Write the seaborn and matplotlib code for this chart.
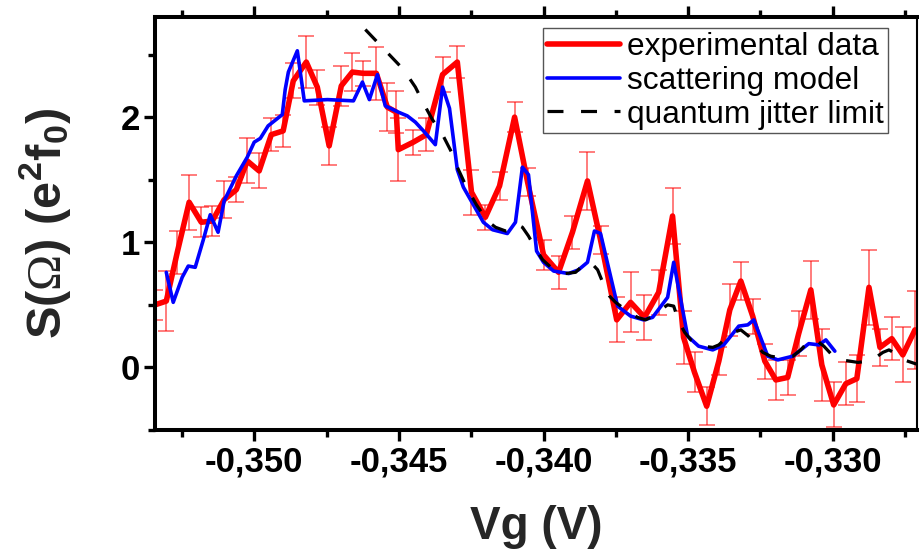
import pandas as pd
import seaborn as sns
import matplotlib.pyplot as plt
from matplotlib.ticker import MultipleLocator, FuncFormatter

# experimental data (red) with error bars
vg_exp = [-0.35343, -0.35304, -0.35266, -0.35225, -0.35183, -0.35145, -0.35104, -0.35062, -0.35024, -0.34983,
          -0.34941, -0.34900, -0.34865, -0.34820, -0.34782, -0.34741, -0.34699, -0.34661, -0.34623, -0.34578,
          -0.34540, -0.34509, -0.34502, -0.34450, -0.34405, -0.34349, -0.34298, -0.34249, -0.34201, -0.34152,
          -0.34100, -0.34055, -0.34000, -0.33948, -0.33900, -0.33848, -0.33803, -0.33747, -0.33699, -0.33651,
          -0.33602, -0.33554, -0.33516, -0.33478, -0.33436, -0.33394, -0.33356, -0.33318, -0.33277, -0.33235,
          -0.33197, -0.33156, -0.33118, -0.33076, -0.33038, -0.32997, -0.32955, -0.32917, -0.32875, -0.32837,
          -0.32796, -0.32758, -0.32716]
s_exp = [0.50, 0.53, 0.92, 1.32, 1.16, 1.17, 1.34, 1.42, 1.65, 1.57,
         1.86, 1.89, 2.29, 2.44, 2.24, 1.77, 2.25, 2.36, 2.35, 2.35,
         2.08, 2.04, 1.74, 1.80, 1.86, 2.34, 2.44, 1.40, 1.20, 1.45,
         2.00, 1.48, 0.90, 0.76, 1.08, 1.49, 1.02, 0.38, 0.52, 0.40,
         0.60, 1.21, 0.24, -0.04, -0.31, 0.05, 0.46, 0.69, 0.41, 0.05,
         -0.10, -0.08, 0.27, 0.62, 0.02, -0.30, -0.13, -0.09, 0.64, 0.16,
         0.23, 0.10, 0.30]
s_err = [0.12, 0.24, 0.17, 0.22, 0.12, 0.12, 0.15, 0.10, 0.18, 0.14,
         0.13, 0.13, 0.14, 0.21, 0.14, 0.15, 0.16, 0.15, 0.10, 0.21,
         0.19, 0.17, 0.25, 0.10, 0.13, 0.14, 0.13, 0.18, 0.10, 0.11,
         0.12, 0.11, 0.12, 0.13, 0.13, 0.23, 0.11, 0.18, 0.24, 0.18,
         0.18, 0.22, 0.21, 0.16, 0.15, 0.11, 0.21, 0.15, 0.14, 0.14,
         0.16, 0.14, 0.18, 0.23, 0.29, 0.18, 0.17, 0.19, 0.30, 0.15,
         0.17, 0.22, 0.31]

# scattering model (blue)
vg_model = [-0.35304, -0.35280, -0.35249, -0.35228, -0.35204, -0.35176, -0.35152, -0.35125, -0.35104, -0.35062,
            -0.35024, -0.35000, -0.34979, -0.34952, -0.34903, -0.34893, -0.34882, -0.34851, -0.34827, -0.34747,
            -0.34657, -0.34626, -0.34602, -0.34574, -0.34547, -0.34502, -0.34471, -0.34443, -0.34415, -0.34374,
            -0.34349, -0.34325, -0.34298, -0.34277, -0.34208, -0.34176, -0.34125, -0.34097, -0.34073, -0.34052,
            -0.34024, -0.34000, -0.33965, -0.33913, -0.33879, -0.33848, -0.33824, -0.33803, -0.33744, -0.33699,
            -0.33654, -0.33623, -0.33571, -0.33550, -0.33502, -0.33464, -0.33415, -0.33377, -0.33325, -0.33294,
            -0.33273, -0.33225, -0.33190, -0.33138, -0.33083, -0.33048, -0.33024, -0.32993]
s_model = [0.76, 0.52, 0.72, 0.81, 0.80, 1.02, 1.22, 1.08, 1.33, 1.53,
           1.68, 1.80, 1.83, 1.93, 2.02, 2.22, 2.36, 2.53, 2.13, 2.14,
           2.13, 2.28, 2.14, 2.34, 2.09, 2.04, 2.01, 1.96, 1.89, 1.78,
           2.24, 2.07, 1.58, 1.44, 1.16, 1.10, 1.07, 1.16, 1.60, 1.54,
           0.93, 0.84, 0.77, 0.75, 0.78, 0.84, 1.09, 1.07, 0.49, 0.41,
           0.38, 0.40, 0.56, 0.84, 0.25, 0.17, 0.14, 0.18, 0.33, 0.34,
           0.38, 0.09, 0.06, 0.09, 0.19, 0.18, 0.22, 0.13]

# quantum jitter limit (black dashed)
vg_jitter = [-0.34616, -0.34550, -0.34484, -0.34443, -0.34415, -0.34384, -0.34349, -0.34318, -0.34298, -0.34266,
             -0.34232, -0.34194, -0.34166, -0.34131, -0.34107, -0.34090, -0.34073, -0.34052, -0.34028, -0.34003,
             -0.33965, -0.33924, -0.33889, -0.33862, -0.33837, -0.33813, -0.33792, -0.33772, -0.33751, -0.33716,
             -0.33675, -0.33647, -0.33623, -0.33595, -0.33571, -0.33550, -0.33533, -0.33512, -0.33491, -0.33450,
             -0.33415, -0.33394, -0.33367, -0.33343, -0.33318, -0.33291, -0.33266, -0.33242, -0.33215, -0.33190,
             -0.33138, -0.33111, -0.33083, -0.33059, -0.33031, -0.33007, -0.32969, -0.32913, -0.32882, -0.32851,
             -0.32827, -0.32806, -0.32782, -0.32754, -0.32702]
s_jitter = [2.70, 2.54, 2.38, 2.24, 2.11, 1.98, 1.86, 1.72, 1.60, 1.44,
            1.30, 1.17, 1.12, 1.09, 1.10, 1.14, 1.12, 1.05, 0.95, 0.86,
            0.78, 0.75, 0.76, 0.82, 0.84, 0.78, 0.66, 0.57, 0.52, 0.46,
            0.40, 0.38, 0.41, 0.46, 0.50, 0.49, 0.37, 0.28, 0.22, 0.17,
            0.16, 0.18, 0.24, 0.28, 0.30, 0.25, 0.18, 0.12, 0.09, 0.08,
            0.09, 0.14, 0.21, 0.22, 0.17, 0.11, 0.06, 0.04, 0.05, 0.08,
            0.12, 0.14, 0.11, 0.06, 0.02]

df_exp = pd.DataFrame({'Vg': vg_exp, 'S': s_exp, 'err': s_err})
df_model = pd.DataFrame({'Vg': vg_model, 'S': s_model})
df_jitter = pd.DataFrame({'Vg': vg_jitter, 'S': s_jitter})

sns.set_theme(style='ticks')
plt.rcParams['font.family'] = ['Liberation Sans', 'DejaVu Sans']
plt.rcParams['font.weight'] = 'bold'
plt.rcParams['mathtext.fontset'] = 'custom'
plt.rcParams['mathtext.rm'] = 'Liberation Serif:weight=normal'
plt.rcParams['mathtext.it'] = 'Liberation Sans:bold'
plt.rcParams['mathtext.bf'] = 'Liberation Sans:bold'

fig, ax = plt.subplots(figsize=(9.19, 5.51), dpi=100)
fig.subplots_adjust(left=155/919, right=917/919, top=1-17/551, bottom=1-430/551)

ax.errorbar(df_exp['Vg'], df_exp['S'], yerr=df_exp['err'], fmt='none',
            ecolor='#ff0000', alpha=0.6, elinewidth=1.2, capsize=6, capthick=1.2, zorder=1)
sns.lineplot(data=df_exp, x='Vg', y='S', sort=False, estimator=None, color='#ff0000',
             lw=4, label='experimental data', ax=ax, zorder=2)
sns.lineplot(data=df_model, x='Vg', y='S', sort=False, estimator=None, color='#0000ff',
             lw=2.6, label='scattering model', ax=ax, zorder=3)
sns.lineplot(data=df_jitter, x='Vg', y='S', sort=False, estimator=None, color='black',
             lw=2.3, linestyle=(0, (5, 5.5)), label='quantum jitter limit', ax=ax, zorder=4)

ax.set_xlim(-0.35343, -0.32709)
ax.set_ylim(-0.5, 2.8)

ax.xaxis.set_major_locator(MultipleLocator(0.005))
ax.xaxis.set_minor_locator(MultipleLocator(0.0025))
ax.yaxis.set_major_locator(MultipleLocator(1))
ax.yaxis.set_minor_locator(MultipleLocator(0.5))
ax.xaxis.set_major_formatter(FuncFormatter(lambda v, p: f'{v:.3f}'.replace('.', ',')))
ax.yaxis.set_major_formatter(FuncFormatter(lambda v, p: f'{v:.0f}'))

ax.tick_params(axis='both', which='major', direction='out', length=8, width=2.4,
               labelsize=25, pad=3, color='black', labelcolor='black')
ax.tick_params(axis='both', which='minor', direction='out', length=5, width=2.4, color='black')
ax.tick_params(axis='x', which='both', top=True, labeltop=False)
ax.tick_params(axis='y', which='both', right=False)

for side in ['left', 'bottom', 'top']:
    ax.spines[side].set_linewidth(2.9)
    ax.spines[side].set_color('black')
ax.spines['right'].set_linewidth(1.5)
ax.spines['right'].set_color('black')

ax.set_xlabel('Vg (V)', fontsize=33, fontweight='bold', labelpad=19)
ax.set_ylabel(r'S($\mathrm{\Omega}$) (e$^{\mathbf{2}}$f$_{\mathbf{0}}$)', fontsize=35,
              fontweight='bold', labelpad=34)

leg = ax.legend(loc='upper right', bbox_to_anchor=(0.962, 0.973), borderaxespad=0,
                prop={'family': 'Liberation Sans', 'weight': 'normal', 'size': 22.8},
                frameon=True, fancybox=False, edgecolor='#555555', framealpha=1,
                handlelength=2.3, handletextpad=0.25, borderpad=0.12, labelspacing=0.12)
leg.get_frame().set_linewidth(1.0)
for t in leg.get_texts():
    t.set_color('black')

fig.savefig('out.png', dpi=100)
